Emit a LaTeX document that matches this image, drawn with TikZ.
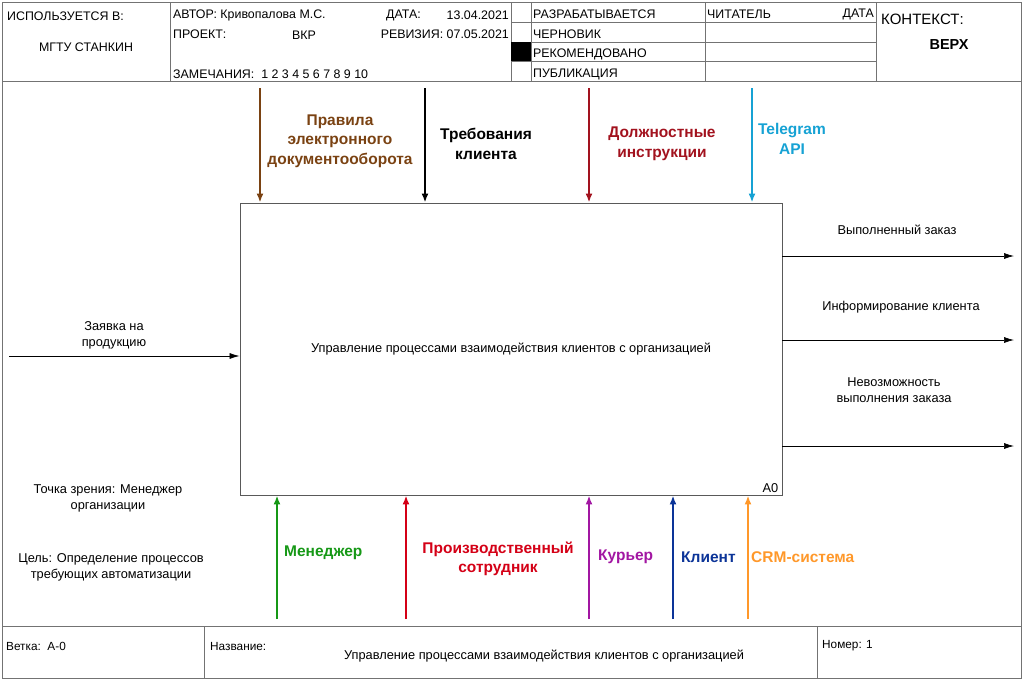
\documentclass[tikz,border=0pt]{standalone}
\usepackage{fontspec}
\setmainfont{Liberation Sans}
\usetikzlibrary{arrows.meta,positioning}

\definecolor{rulebrown}{RGB}{122,66,18}
\definecolor{instrred}{RGB}{162,18,30}
\definecolor{apicyan}{RGB}{22,162,212}
\definecolor{mgrgreen}{RGB}{22,152,22}
\definecolor{workred}{RGB}{212,0,22}
\definecolor{courpurple}{RGB}{162,22,162}
\definecolor{clientblue}{RGB}{12,52,152}
\definecolor{crmorange}{RGB}{255,152,42}

\begin{document}
\begin{tikzpicture}[x=1pt,y=-1pt,
  frame/.style={draw=black!55,line width=0.9pt},
  txt/.style={font=\fontsize{12.8}{16}\selectfont,inner sep=0pt,align=center},
  head/.style={font=\fontsize{12.4}{15}\selectfont,inner sep=0pt},
  foot/.style={font=\fontsize{11.8}{15}\selectfont,inner sep=0pt},
  bold/.style={font=\fontsize{15.5}{19.5}\selectfont\bfseries,inner sep=0pt,align=center},
  ctl/.style={line width=2.6pt,-{Latex[length=9pt,width=7pt]}},
  flow/.style={line width=0.7pt,-{Latex[length=10pt,width=6pt]}}]
\useasboundingbox (0,0) rectangle (1023,680);

% Frame
\draw[frame] (2,2) rectangle (1021,678);
\draw[frame] (2,81) -- (1021,81);
\draw[frame] (2,626) -- (1021,626);
\draw[frame] (170,2) -- (170,81);
\draw[frame] (511,2) -- (511,81);
\draw[frame] (531,2) -- (531,81);
\draw[frame] (705,2) -- (705,81);
\draw[frame] (876,2) -- (876,81);
\foreach \y in {22,42,61} \draw[frame] (511,\y) -- (876,\y);
\fill (511,42) rectangle (531,61);
\draw[frame] (204,626) -- (204,678);
\draw[frame] (817,626) -- (817,678);

% Header
\node[head,anchor=west] (used) at (7,16) {ИСПОЛЬЗУЕТСЯ В:};
\node[head] (org) at (86,47) {МГТУ СТАНКИН};
\node[head,anchor=west] (author) at (173,15) {АВТОР: Кривопалова М.С.};
\node[head,anchor=west] (date) at (386,15) {ДАТА:};
\node[head,anchor=east] (dateval) at (509,15) {13.04.2021};
\node[head,anchor=west] (proj) at (173,34) {ПРОЕКТ:};
\node[head] (projval) at (304,35) {ВКР};
\node[head,anchor=east] (rev) at (509,34) {РЕВИЗИЯ: 07.05.2021};
\node[head,anchor=west] (notes) at (173,74) {ЗАМЕЧАНИЯ:\ \ 1 2 3 4 5 6 7 8 9 10};
\node[head,anchor=west] (st1) at (533,14) {РАЗРАБАТЫВАЕТСЯ};
\node[head,anchor=west] (st2) at (533,34) {ЧЕРНОВИК};
\node[head,anchor=west] (st3) at (533,54) {РЕКОМЕНДОВАНО};
\node[head,anchor=west] (st4) at (533,74) {ПУБЛИКАЦИЯ};
\node[head,anchor=west] (reader) at (707,14) {ЧИТАТЕЛЬ};
\node[head,anchor=east] (rdate) at (874,14) {ДАТА};
\node[head,anchor=west,font=\fontsize{15}{18}\selectfont] (ctx) at (881,19) {КОНТЕКСТ:};
\node[head,font=\fontsize{14.5}{17}\selectfont\bfseries] (top) at (949,45) {ВЕРХ};

% Function block
\node[frame,draw=black!65,minimum width=542pt,minimum height=292pt,txt] (box) at (511,349)
  {Управление процессами взаимодействия клиентов с организацией};
\node[txt,anchor=south east] (num) at ([shift={(-4,-3)}]box.south east) {A0};

% Controls
\coordinate (c1) at (260,88);
\coordinate (c2) at (425,88);
\coordinate (c3) at (589,88);
\coordinate (c4) at (752,88);
\draw[ctl,rulebrown] (c1) -- (c1 |- box.north);
\draw[ctl,black] (c2) -- (c2 |- box.north);
\draw[ctl,instrred] (c3) -- (c3 |- box.north);
\draw[ctl,apicyan] (c4) -- (c4 |- box.north);
\node[bold,rulebrown] (rules) at (340,141) {Правила\\электронного\\документооборота};
\node[bold] (req) at (486,144) {Требования\\клиента};
\node[bold,instrred] (instr) at (662,144) {Должностные\\инструкции};
\node[bold,apicyan] (api) at (792,139) {Telegram\\API};

% Mechanisms
\coordinate (m1) at (277,619);
\coordinate (m2) at (406,619);
\coordinate (m3) at (589,619);
\coordinate (m4) at (673,619);
\coordinate (m5) at (748,619);
\draw[ctl,mgrgreen] (m1) -- (m1 |- box.south);
\draw[ctl,workred] (m2) -- (m2 |- box.south);
\draw[ctl,courpurple] (m3) -- (m3 |- box.south);
\draw[ctl,clientblue] (m4) -- (m4 |- box.south);
\draw[ctl,crmorange] (m5) -- (m5 |- box.south);
\node[bold,mgrgreen,anchor=west] (mgr) at (284,553) {Менеджер};
\node[bold,workred] (worker) at (498,559) {Производственный\\сотрудник};
\node[bold,courpurple,anchor=west] (cour) at (598,557) {Курьер};
\node[bold,clientblue,anchor=west] (client) at (681,557) {Клиент};
\node[bold,crmorange,anchor=west] (crm) at (751,557) {CRM-система};

% Input
\coordinate (in) at (9,356);
\draw[flow] (in) -- (in -| box.west);
\node[txt] (inlbl) at (114,335) {Заявка на\\продукцию};

% Outputs
\coordinate (o1) at (1014,256);
\coordinate (o2) at (1014,340);
\coordinate (o3) at (1014,446);
\draw[flow] (box.east |- o1) -- (o1);
\draw[flow] (box.east |- o2) -- (o2);
\draw[flow] (box.east |- o3) -- (o3);
\node[txt] (out1) at (897,230) {Выполненный заказ};
\node[txt] (out2) at (901,307) {Информирование клиента};
\node[txt] (out3) at (894,390) {Невозможность\\выполнения заказа};

% Notes
\node[txt] (view) at (108,498) {Точка зрения: Менеджер\\организации};
\node[txt] (goal) at (111,567) {Цель: Определение процессов\\требующих автоматизации};

% Footer
\node[foot,anchor=west] (branch) at (6,646) {Ветка:\ \ A-0};
\node[foot,anchor=west] (name) at (210,646) {Название:};
\node[txt] (title) at (544,656) {Управление процессами взаимодействия клиентов с организацией};
\node[foot,anchor=west] (page) at (822,646) {Номер: 1};
\end{tikzpicture}
\end{document}
